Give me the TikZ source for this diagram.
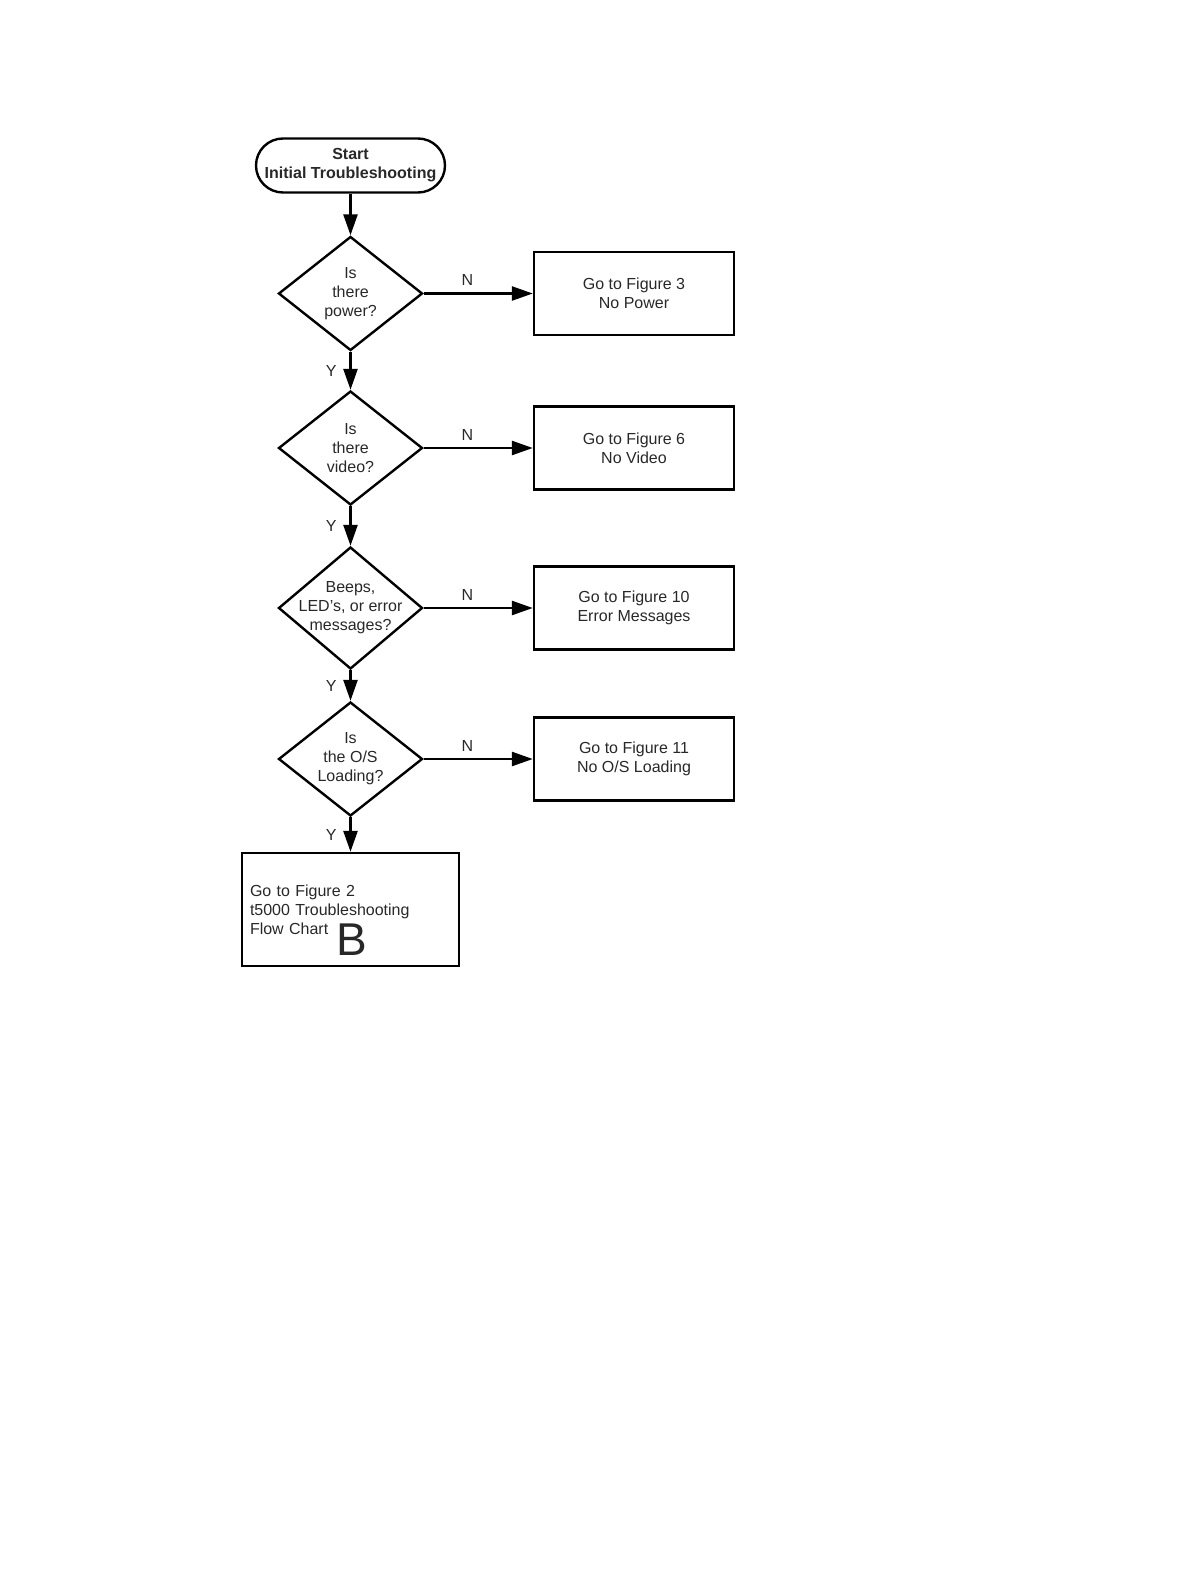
\documentclass[tikz,border=0pt]{standalone}
\usepackage{fontspec}
\setmainfont{Liberation Sans}
\usetikzlibrary{arrows.meta,shapes.geometric,positioning}
\definecolor{txtcol}{RGB}{40,40,40}

\begin{document}
\begin{tikzpicture}[
  x=0.5pt, y=-0.5pt,
  every node/.style={font=\fontsize{8}{9.5}\selectfont, text=txtcol},
  term/.style={rectangle, rounded corners=13.5pt, draw, line width=1.2pt,
               minimum width=94.5pt, minimum height=27pt, inner sep=2pt,
               align=center, font=\fontsize{8}{9.5}\selectfont\bfseries},
  dec/.style={diamond, draw, line width=1.2pt, inner sep=0pt,
              minimum width=72pt, minimum height=#1},
  dec/.default={57pt},
  gobox/.style={rectangle, draw, line width=1.2pt, minimum width=100pt,
                minimum height=41.5pt, align=center, inner sep=2pt},
  arr/.style={-{Triangle[length=10.5pt, width=7pt]}, line width=1.3pt},
  lbl/.style={font=\fontsize{8}{9.5}\selectfont},
]
  \useasboundingbox (0,0) rectangle (1190,1584);

  % Start
  \node[term] (start) at (350.5,165.5) {Start\\Initial Troubleshooting};

  % Decisions
  \node[dec, label={[align=center]center:Is\\there\\power?}] (power) at (350.5,293.5) {};
  \node[dec, label={[align=center]center:Is\\there\\video?}] (video) at (350.5,448) {};
  \node[dec=61pt, label={[align=center]center:Beeps,\\LED’s, or error\\messages?}] (beeps) at (350.5,608) {};
  \node[dec, label={[align=center]center:Is\\the O/S\\Loading?}] (osload) at (350.5,759) {};

  % Go-to boxes
  \node[gobox] (fig3) at (634,293.5) {Go to Figure 3\\No Power};
  \node[gobox] (fig6) at (634,448) {Go to Figure 6\\No Video};
  \node[gobox] (fig10) at (634,608) {Go to Figure 10\\Error Messages};
  \node[gobox] (fig11) at (634,759) {Go to Figure 11\\No O/S Loading};

  \node[rectangle, draw, line width=1.2pt, text width=100.5pt, inner sep=4pt,
        minimum height=56.5pt, align=left] (fig2) at (350.5,909.5)
        {Go to Figure 2\\t5000 Troubleshooting\\Flow Chart};
  \node[anchor=base, inner sep=0pt, font=\fontsize{23}{23}\selectfont] (figB) at (351.5,955) {B};

  % Arrows down
  \draw[arr] (start) -- (power);
  \draw[arr] (power) -- node[lbl, left=3pt] {Y} (video);
  \draw[arr] (video) -- node[lbl, left=3pt] {Y} (beeps);
  \draw[arr] (beeps) -- node[lbl, left=3pt] {Y} (osload);
  \draw[arr] (osload) -- node[lbl, left=3pt] {Y} (fig2);

  % Arrows right
  \draw[arr] (power) -- node[lbl, above, pos=0.4] {N} (fig3);
  \draw[arr] (video) -- node[lbl, above, pos=0.4] {N} (fig6);
  \draw[arr] (beeps) -- node[lbl, above, pos=0.4] {N} (fig10);
  \draw[arr] (osload) -- node[lbl, above, pos=0.4] {N} (fig11);

\end{tikzpicture}
\end{document}
